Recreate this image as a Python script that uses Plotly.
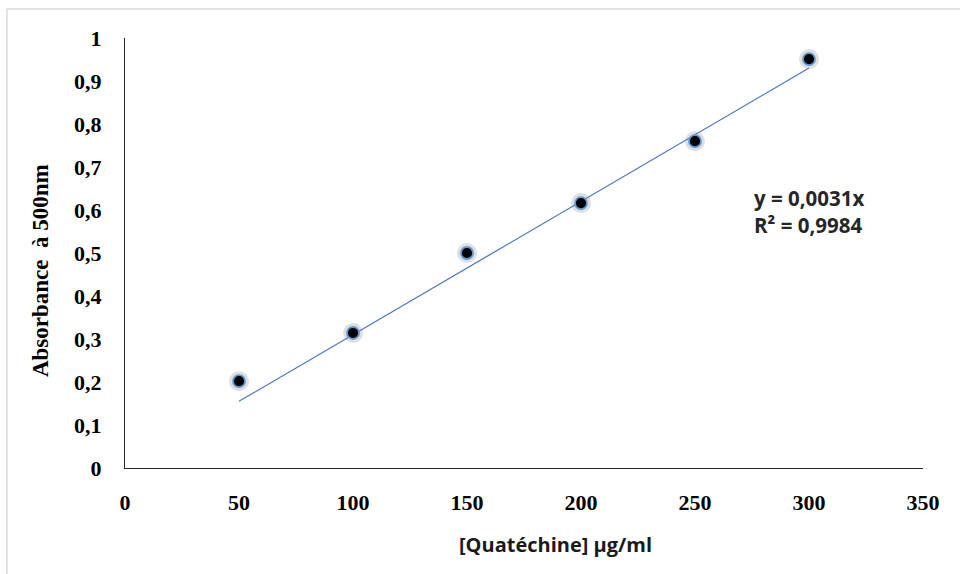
import plotly.graph_objects as go

# Calibration data: catechin concentration vs absorbance at 500 nm
concentration = [50, 100, 150, 200, 250, 300]
absorbance = [0.202, 0.314, 0.500, 0.616, 0.760, 0.951]

# Linear fit forced through the origin
slope = 0.0031
r_squared = 0.9984
fit_x = [concentration[0], concentration[-1]]
fit_y = [slope * v for v in fit_x]

x_ticks = [0, 50, 100, 150, 200, 250, 300, 350]
y_ticks = [0, 0.1, 0.2, 0.3, 0.4, 0.5, 0.6, 0.7, 0.8, 0.9, 1.0]
y_tick_text = ["0", "0,1", "0,2", "0,3", "0,4", "0,5", "0,6", "0,7", "0,8", "0,9", "1"]

serif = "Liberation Serif, Times New Roman, serif"
sans = "Open Sans, Lato, sans-serif"

fig = go.Figure()

# soft shadow under the markers
fig.add_trace(go.Scatter(
    x=concentration, y=absorbance, mode="markers",
    marker=dict(size=20, color="rgba(110,110,110,0.22)", line=dict(width=0)),
    hoverinfo="skip", showlegend=False,
))
fig.add_trace(go.Scatter(
    x=fit_x, y=fit_y, mode="lines",
    line=dict(color="#4472c4", width=1.2),
    showlegend=False,
))
fig.add_trace(go.Scatter(
    x=concentration, y=absorbance, mode="markers",
    marker=dict(size=12, color="#000000", line=dict(color="#5b9bd5", width=1.8)),
    showlegend=False,
))

# fit equation
fig.add_annotation(
    x=0.786, y=0.596, xref="paper", yref="paper", xanchor="left", yanchor="middle",
    text=f"y = {str(slope).replace('.', ',')}x<br>R² = {str(r_squared).replace('.', ',')}",
    showarrow=False, align="left",
    font=dict(family=sans, size=20.5, color="#262626", weight="bold"),
)

# axis titles
fig.add_annotation(
    x=0.539, y=-0.177, xref="paper", yref="paper", xanchor="center", yanchor="middle",
    text="[Quatéchine] µg/ml", showarrow=False,
    font=dict(family=sans, size=20, color="#1a1a1a", weight="bold"),
)
fig.add_annotation(
    x=-0.1065, y=0.458, xref="paper", yref="paper", xanchor="center", yanchor="middle",
    text="Absorbance  à 500nm", showarrow=False, textangle=-90,
    font=dict(family=serif, size=23, color="#000000", weight="bold"),
)

# light outer frame of the chart area
frame = dict(type="line", xref="paper", yref="paper",
             line=dict(color="#d9d9d9", width=1.5))
fig.add_shape(**frame, x0=-0.148, x1=1.1, y0=1.0674, y1=1.0674)
fig.add_shape(**frame, x0=-0.148, x1=-0.148, y0=1.0674, y1=-0.3)

fig.update_layout(
    width=960, height=574,
    margin=dict(l=125, r=37, t=38, b=106),
    paper_bgcolor="white", plot_bgcolor="white",
    xaxis=dict(
        range=[0, 350], tickvals=x_ticks, ticktext=[str(v) for v in x_ticks],
        showgrid=False, zeroline=False, showline=True, linecolor="#262626", linewidth=1.2,
        ticks="", ticklabelstandoff=14,
        tickfont=dict(family=serif, size=22, color="#000000", weight="bold"),
    ),
    yaxis=dict(
        range=[0, 1], tickvals=y_ticks, ticktext=y_tick_text,
        showgrid=False, zeroline=False, showline=True, linecolor="#262626", linewidth=1.2,
        ticks="", ticklabelstandoff=18,
        tickfont=dict(family=serif, size=22, color="#000000", weight="bold"),
    ),
)

fig.write_html("out.html")
